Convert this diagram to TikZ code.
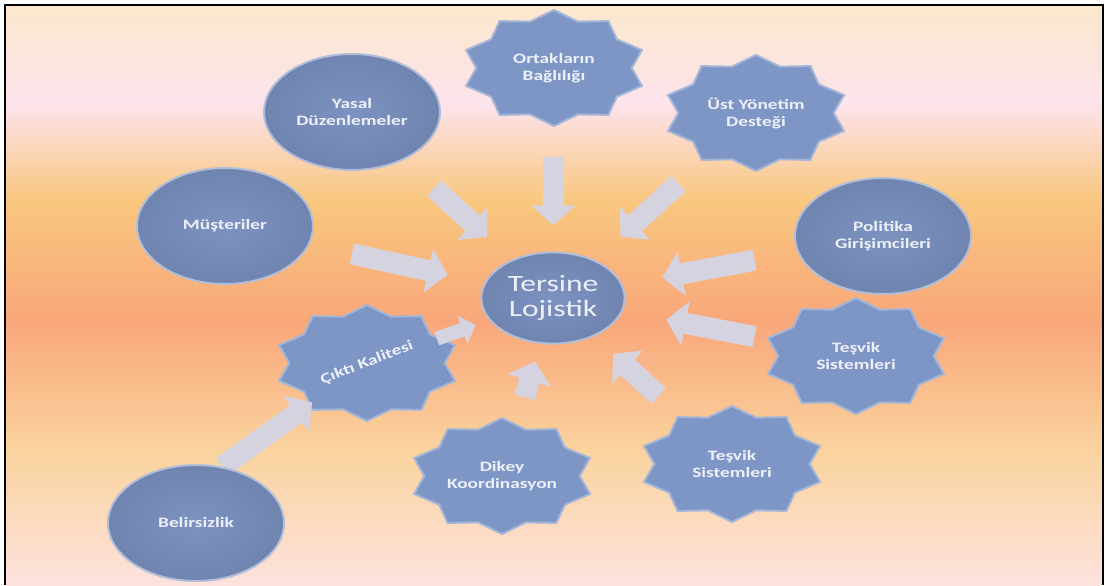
\documentclass[tikz,border=0pt]{standalone}
\usepackage{fontspec}
\setmainfont{Carlito}
\newfontfamily\lblfont[FakeStretch=1.35]{Carlito}
\usetikzlibrary{shapes.geometric,arrows.meta}
\pgfdeclarelayer{bg}\pgfdeclarelayer{mid}\pgfsetlayers{bg,mid,main}
\definecolor{bgA}{RGB}{253,226,222}
\definecolor{bgB}{RGB}{250,211,158}
\definecolor{bgC}{RGB}{249,167,122}
\definecolor{bgD}{RGB}{249,199,127}
\definecolor{bgE}{RGB}{253,227,236}
\definecolor{bgF}{RGB}{251,232,204}
\definecolor{ovalin}{RGB}{124,146,192}
\definecolor{ovalout}{RGB}{112,132,176}
\definecolor{ovalrim}{RGB}{176,190,218}
\definecolor{starblue}{RGB}{126,150,198}
\definecolor{starrim}{RGB}{164,182,216}
\definecolor{arrgray}{RGB}{214,211,225}
\definecolor{txtwhite}{RGB}{238,240,249}
\pgfdeclareverticalshading{bgshade}{100bp}{color(0bp)=(bgA); color(25bp)=(bgA); color(36.6bp)=(bgB);
  color(47.8bp)=(bgC); color(58.2bp)=(bgD); color(66.5bp)=(bgE); color(75bp)=(bgF); color(100bp)=(bgF)}
\begin{document}
\begin{tikzpicture}[x=2.5cm,y=2.5cm,
  lbl/.style={ellipse,minimum width=4.4cm,minimum height=2.9cm,align=center,text=txtwhite,
    font=\lblfont\bfseries\fontsize{10.2}{12.2}\selectfont},
  oval/.style={lbl,shade,inner color=ovalin,outer color=ovalout,draw=ovalrim,line width=1.4pt},
  starfill/.style={fill=starblue,draw=starrim,line width=1.4pt},
  blockarr/.style={draw=arrgray,line width=15pt,-{Triangle[length=14pt,width=31pt]}},
  smallarr/.style={draw=arrgray,line width=10pt,-{Triangle[length=10pt,width=21pt]}}]
\useasboundingbox (0,0) rectangle (11.05,5.85);
% background
\begin{pgfonlayer}{bg}
\shade[shading=bgshade] (0.06,0) rectangle (11.02,5.80);
\draw[line width=2pt] (0.05,0) -- (0.05,5.80) -- (11.03,5.80) -- (11.03,0);
\end{pgfonlayer}
% nodes
\node[oval,minimum width=3.58cm,minimum height=2.28cm,font=\lblfont\fontsize{16.6}{17.8}\selectfont] (tl) at (5.53,2.87) {Tersine\\Lojistik};
\node[lbl] (ort) at (5.54,5.17) {Ortakların\\Bağlılığı};
\node[lbl] (ust) at (7.56,4.72) {Üst Yönetim\\Desteği};
\node[oval] (yasal) at (3.52,4.73) {Yasal\\Düzenlemeler};
\node[oval] (mus) at (2.25,3.59) {Müşteriler};
\node[oval] (pol) at (8.83,3.49) {Politika\\Girişimcileri};
\node[lbl] (tesr) at (8.56,2.29) {Teşvik\\Sistemleri};
\node[lbl,rotate=21] (cik) at (3.67,2.22) {Çıktı Kalitesi};
\node[lbl] (dik) at (5.02,1.09) {Dikey\\Koordinasyon};
\node[lbl] (tesb) at (7.32,1.21) {Teşvik\\Sistemleri};
\node[oval] (bel) at (1.96,0.62) {Belirsizlik};
% stars and arrows
\begin{pgfonlayer}{mid}
\foreach \s in {ort,ust,tesr,cik,dik,tesb}
  \draw[starfill,shift={(\s.center)}] (0,0.58) \foreach \k in {1,...,19}{
    -- ({0.925*(1-0.16*mod(\k,2))*cos(90+18*\k)},{0.58*(1-0.16*mod(\k,2))*sin(90+18*\k)})} -- cycle;
\draw[blockarr,shorten <=2.8cm,shorten >=2.25cm] (yasal.center) -- (tl.center);
\draw[blockarr,shorten <=2.22cm,shorten >=1.82cm] (ort.center) -- (tl.center);
\draw[blockarr,shorten <=2.62cm,shorten >=2.28cm] (ust.center) -- (tl.center);
\draw[blockarr,shorten <=3.25cm,shorten >=2.7cm] (mus.center) -- (tl.center);
\draw[blockarr,shorten <=3.27cm,shorten >=2.78cm] (pol.center) -- (tl.center);
\draw[blockarr,shorten <=2.58cm,shorten >=2.88cm] (tesr.center) -- (tl.center);
\draw[smallarr,shorten <=1.85cm,shorten >=2.05cm] (cik.center) -- (tl.center);
\draw[blockarr,shorten <=2.05cm,shorten >=1.65cm] (dik.center) -- (tl.center);
\draw[blockarr,shorten <=2.5cm,shorten >=2.05cm] (tesb.center) -- (tl.center);
\draw[blockarr,shorten >=1.69cm] (bel.65) -- (cik.center);
\end{pgfonlayer}
\end{tikzpicture}
\end{document}
